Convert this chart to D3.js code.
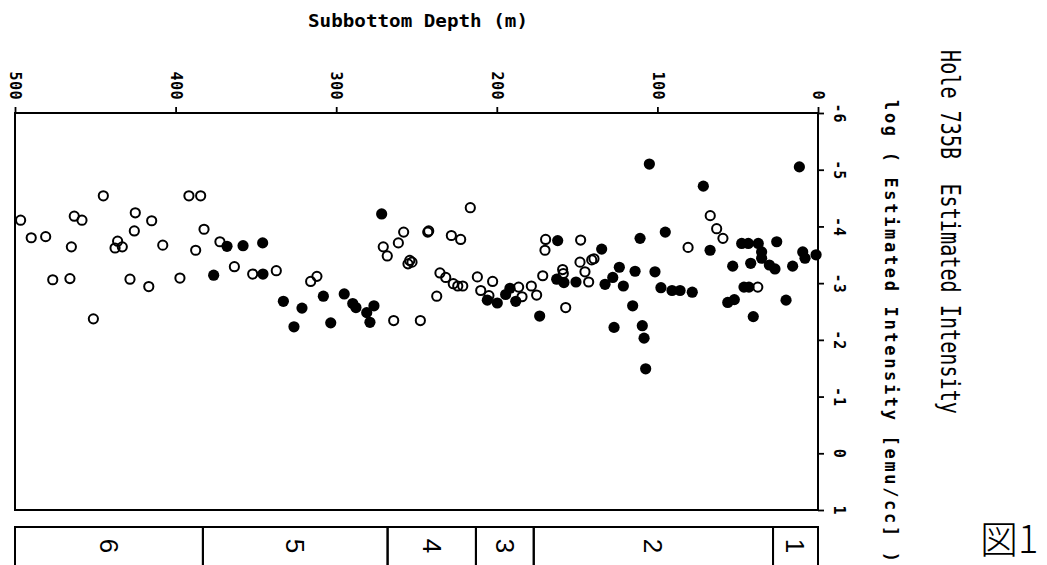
<!DOCTYPE html>
<html>
<head>
<meta charset="utf-8">
<script src="https://cdn.jsdelivr.net/npm/d3@7"></script>
<style>
  body { margin: 0; background: #fff; }
  svg { display: block; }
</style>
</head>
<body>
<div id="chart"></div>
<script>
// Hole 735B: subbottom depth (m) vs log estimated intensity
const filledDepth = [368.0, 358.0, 345.8, 376.3, 345.6, 332.9, 326.3, 321.3, 308.0, 303.4,
  295.0, 289.7, 287.7, 281.0, 276.5, 279.0, 271.7, 205.9, 199.7, 194.5,
  191.8, 188.2, 173.3, 162.1, 162.7, 158.2, 150.7, 132.6, 127.8, 123.7,
  134.7, 113.9, 121.2, 110.8, 105.0, 101.5, 97.8, 95.1, 90.9, 85.9,
  78.3, 115.4, 127.0, 109.4, 108.3, 107.3, 71.4, 67.2, 47.5, 43.4,
  37.2, 25.7, 35.1, 41.9, 35.1, 30.3, 26.8, 53.1, 15.8, 9.5,
  8.1, 1.2, 11.6, 56.2, 52.1, 46.1, 43.0, 40.3, 19.9];
const filledLog = [-3.65, -3.66, -3.71, -3.14, -3.16, -2.68, -2.23, -2.56, -2.77, -2.30,
  -2.81, -2.64, -2.57, -2.48, -2.60, -2.31, -4.22, -2.70, -2.65, -2.80,
  -2.91, -2.68, -2.42, -3.75, -3.07, -3.01, -3.02, -2.98, -3.10, -3.28,
  -3.60, -3.21, -2.95, -3.79, -5.10, -3.20, -2.92, -3.90, -2.87, -2.87,
  -2.84, -2.60, -2.22, -2.25, -2.03, -1.49, -4.71, -3.58, -3.70, -3.70,
  -3.70, -3.73, -3.55, -3.35, -3.44, -3.32, -3.25, -3.30, -3.30, -3.55,
  -3.44, -3.50, -5.05, -2.66, -2.71, -2.93, -2.93, -2.41, -2.70];

const openDepth = [496.5, 489.9, 480.9, 445.0, 463.1, 458.3, 464.9, 476.5, 465.8, 451.2,
  425.1, 425.7, 436.1, 437.7, 433.2, 414.9, 408.0, 428.4, 416.7, 397.3,
  391.7, 384.4, 382.3, 387.5, 372.4, 363.4, 352.0, 337.3, 315.9, 312.0,
  270.7, 268.2, 261.3, 258.0, 242.4, 243.0, 254.2, 252.8, 255.3, 264.2,
  247.6, 237.4, 235.4, 231.8, 227.1, 224.3, 221.2, 228.3, 222.5, 216.5,
  212.1, 210.0, 204.9, 202.6, 186.4, 184.3, 178.5, 175.2, 171.4, 169.6,
  170.0, 147.8, 148.2, 140.9, 139.5, 159.0, 158.6, 145.1, 142.8, 157.1,
  80.9, 67.1, 63.1, 59.2, 37.5];
const openLog = [-4.11, -3.80, -3.82, -4.54, -4.18, -4.11, -3.64, -3.06, -3.08, -2.37,
  -4.24, -3.92, -3.74, -3.62, -3.64, -4.10, -3.67, -3.07, -2.94, -3.09,
  -4.54, -4.54, -3.95, -3.58, -3.73, -3.29, -3.16, -3.22, -3.03, -3.12,
  -3.64, -3.48, -3.71, -3.90, -3.92, -3.90, -3.40, -3.37, -3.34, -2.34,
  -2.34, -2.77, -3.18, -3.10, -2.99, -2.95, -2.95, -3.84, -3.77, -4.33,
  -3.11, -2.87, -2.78, -3.03, -2.93, -2.76, -2.95, -2.79, -3.13, -3.77,
  -3.58, -3.76, -3.37, -3.41, -3.43, -3.24, -3.17, -3.20, -3.02, -2.57,
  -3.63, -4.19, -3.96, -3.79, -2.93];

const depthTicks = [0, 100, 200, 300, 400, 500];
const logTicks = [-6, -5, -4, -3, -2, -1, 0, 1];

// lithologic units
const unitNames = ["1", "2", "3", "4", "5", "6"];
const unitTop = [0, 28, 177, 213, 268, 383];
const unitBottom = [28, 177, 213, 268, 383, 500];

const W = 1047, H = 565;
const mono = "'DejaVu Sans Mono', 'Liberation Mono', monospace";

const svg = d3.select("#chart").append("svg")
    .attr("width", W)
    .attr("height", H)
    .style("background", "#fff");

// depth runs right to left, log intensity runs top to bottom
const x = d3.scaleLinear().domain([0, 500]).range([818, 15]);
const y = d3.scaleLinear().domain([-6, 1]).range([113, 510]);

// depth axis (top)
const xAxis = svg.append("g")
    .attr("transform", `translate(0,${y(-6)})`)
    .call(d3.axisTop(x).tickValues(depthTicks).tickSize(6).tickFormat(d3.format("d")));
xAxis.select(".domain").remove();
xAxis.selectAll("line").attr("stroke", "#000").attr("stroke-width", 1.8);
xAxis.selectAll("text")
    .attr("x", 0).attr("y", 0).attr("dy", "0.35em")
    .attr("transform", "translate(0,-13) rotate(90)")
    .attr("text-anchor", "end")
    .style("font-family", mono).style("font-weight", "bold")
    .style("font-size", "15px").style("letter-spacing", "0.5px")
    .attr("fill", "#000");

// log intensity axis (right)
const yAxis = svg.append("g")
    .attr("transform", `translate(${x(0)},0)`)
    .call(d3.axisRight(y).tickValues(logTicks).tickSize(6).tickFormat(d3.format("d")));
yAxis.select(".domain").remove();
yAxis.selectAll("line").attr("stroke", "#000").attr("stroke-width", 1.8);
yAxis.selectAll("text")
    .text(d => d < 0 ? "-" + Math.abs(d) : d)
    .attr("x", 0).attr("y", 0).attr("dy", "0.35em")
    .attr("transform", "translate(21,0) rotate(90)")
    .attr("text-anchor", "middle")
    .style("font-family", mono).style("font-weight", "bold")
    .style("font-size", "15px").style("letter-spacing", "1px")
    .attr("fill", "#000");

// frame
svg.append("rect")
    .attr("x", x(500)).attr("y", y(-6))
    .attr("width", x(0) - x(500)).attr("height", y(1) - y(-6))
    .attr("fill", "none").attr("stroke", "#000").attr("stroke-width", 2);

// points
svg.append("g").selectAll("circle")
    .data(d3.zip(openDepth, openLog))
    .join("circle")
    .attr("cx", d => x(d[0]))
    .attr("cy", d => y(d[1]))
    .attr("r", 4.6)
    .attr("fill", "none")
    .attr("stroke", "#000")
    .attr("stroke-width", 2);

svg.append("g").selectAll("circle")
    .data(d3.zip(filledDepth, filledLog))
    .join("circle")
    .attr("cx", d => x(d[0]))
    .attr("cy", d => y(d[1]))
    .attr("r", 5.6)
    .attr("fill", "#000");

// unit band
const bandTop = 527;
const units = svg.append("g");
units.selectAll("rect")
    .data(unitNames.map((n, i) => ({n, top: unitTop[i], bottom: unitBottom[i]})))
    .join("rect")
    .attr("x", d => x(d.bottom))
    .attr("y", bandTop)
    .attr("width", d => x(d.top) - x(d.bottom))
    .attr("height", 60)
    .attr("fill", "none")
    .attr("stroke", "#000")
    .attr("stroke-width", 2);
units.selectAll("text")
    .data(unitNames.map((n, i) => ({n, mid: (unitTop[i] + unitBottom[i]) / 2})))
    .join("text")
    .attr("transform", d => `translate(${x(d.mid)},546) rotate(90)`)
    .attr("text-anchor", "middle")
    .attr("dy", "0.35em")
    .style("font-family", "'Liberation Sans', Arial, sans-serif")
    .style("font-size", "26px")
    .text(d => d.n);

// titles
svg.append("text")
    .attr("x", 308).attr("y", 27)
    .attr("textLength", 220).attr("lengthAdjust", "spacingAndGlyphs")
    .style("font-family", mono).style("font-weight", "bold").style("font-size", "18px")
    .text("Subbottom Depth (m)");

svg.append("text")
    .attr("transform", "translate(891,100) rotate(90)")
    .attr("dy", "0.35em")
    .attr("textLength", 462).attr("lengthAdjust", "spacing")
    .style("font-family", mono).style("font-weight", "bold").style("font-size", "17px")
    .text("log ( Estimated Intensity [emu/cc] )");

svg.append("text")
    .attr("transform", "translate(950,50) rotate(90) scale(1,1.3)")
    .attr("dy", "0.35em")
    .attr("textLength", 364).attr("lengthAdjust", "spacingAndGlyphs")
    .style("font-family", mono).style("font-size", "20px")
    .style("white-space", "pre")
    .text("Hole 735B  Estimated Intensity");

svg.append("text")
    .attr("x", 980).attr("y", 553)
    .style("font-family", "'Noto Sans CJK JP', sans-serif")
    .style("font-weight", 300)
    .style("font-size", "38px")
    .text("図1");
</script>
</body>
</html>
